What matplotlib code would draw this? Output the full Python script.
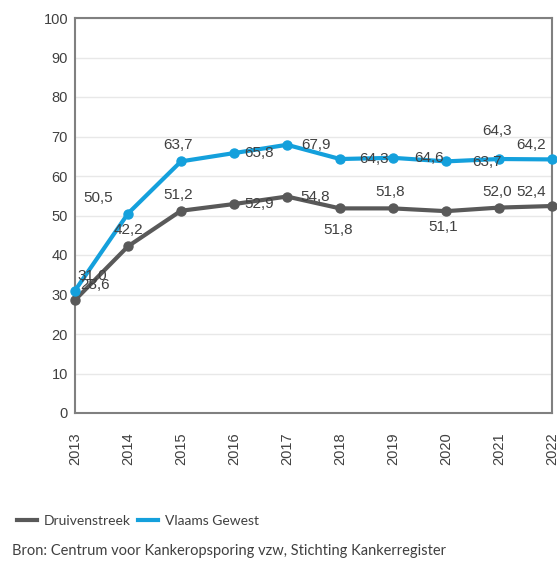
import matplotlib
matplotlib.use("Agg")
import matplotlib.pyplot as plt
from matplotlib.lines import Line2D

years = [2013, 2014, 2015, 2016, 2017, 2018, 2019, 2020, 2021, 2022]
druivenstreek = [28.6, 42.2, 51.2, 52.9, 54.8, 51.8, 51.8, 51.1, 52.0, 52.4]
vlaams = [31.0, 50.5, 63.7, 65.8, 67.9, 64.3, 64.6, 63.7, 64.3, 64.2]
series_names = ["Druivenstreek", "Vlaams Gewest"]
source = "Bron: Centrum voor Kankeropsporing vzw, Stichting Kankerregister"

# label offsets in pixels (dx, dy) relative to each point
off_d = [(20, 15), (0, 16), (-3, 16), (25, 0), (28, 0), (-2, -22), (-3, 16), (-3, -16), (-2, 16), (-21, 14)]
off_v = [(17, 15), (-30, 16), (-3, 16), (25, 0), (29, 0), (34, 0), (36, 0), (41, -1), (-2, 28), (-21, 14)]

GRAY = "#595959"
BLUE = "#14a0dc"
TXT = "#404040"

fig = plt.figure(figsize=(5.57, 5.61), dpi=100)
ax = fig.add_axes([75 / 557, 1 - 413 / 561, (552 - 75) / 557, (413 - 18) / 561])

x = list(range(len(years)))
ax.plot(x, druivenstreek, color=GRAY, lw=3.0, marker="o", ms=6.5, clip_on=False, zorder=3)
ax.plot(x, vlaams, color=BLUE, lw=3.0, marker="o", ms=6.5, clip_on=False, zorder=3)

for xi, v, (dx, dy) in zip(x, druivenstreek, off_d):
    ax.annotate(f"{v:.1f}".replace(".", ","), (xi, v), xytext=(dx, dy),
                textcoords="offset pixels", ha="center", va="center",
                fontsize=11, color=TXT, family="Liberation Sans", zorder=5)
for xi, v, (dx, dy) in zip(x, vlaams, off_v):
    ax.annotate(f"{v:.1f}".replace(".", ","), (xi, v), xytext=(dx, dy),
                textcoords="offset pixels", ha="center", va="center",
                fontsize=11, color=TXT, family="Liberation Sans", zorder=5)

ax.set_xlim(0, len(years) - 1)
ax.set_ylim(0, 100)
ax.set_yticks(range(0, 101, 10))
ax.set_xticks(x)
ax.set_xticklabels([str(y) for y in years], rotation=90)
ax.tick_params(axis="both", length=0, labelsize=10.5, labelcolor=TXT)
ax.tick_params(axis="x", pad=14)
ax.tick_params(axis="y", pad=5)
for lbl in ax.get_xticklabels() + ax.get_yticklabels():
    lbl.set_family("Liberation Sans")
ax.grid(axis="y", color="#e8e8e8", lw=1)
ax.set_axisbelow(True)
for s in ax.spines.values():
    s.set_color("#808080")
    s.set_linewidth(1.5)

handles = [Line2D([0], [0], color=GRAY, lw=3), Line2D([0], [0], color=BLUE, lw=3)]
fig.legend(handles, series_names, loc="center left", bbox_to_anchor=(4 / 557, 1 - 521 / 561),
           ncol=2, frameon=False, handlelength=1.45, handletextpad=0.5, columnspacing=0.5,
           prop={"family": "Lato", "size": 10}, labelcolor=TXT)
fig.text(12 / 557, 1 - 551 / 561, source, ha="left", va="center",
         fontsize=10.5, color=TXT, family="Lato")

fig.savefig("out.png", dpi=100)
